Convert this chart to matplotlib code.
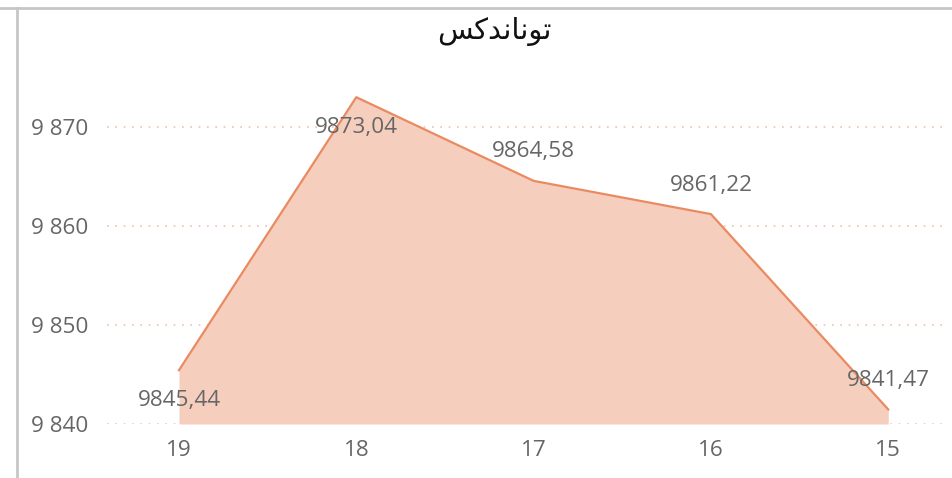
import matplotlib
matplotlib.use("Agg")
import matplotlib.pyplot as plt
from matplotlib.lines import Line2D
from matplotlib.ticker import FuncFormatter

title_text = "\uFEB2\uFB90\uFEAA\uFEE7\uFE8E\uFEE7\uFEEE\uFE97"  # توناندکس (shaped, visual order)
categories = ["19", "18", "17", "16", "15"]
values = [9845.44, 9873.04, 9864.58, 9861.22, 9841.47]
label_above = [False, False, True, True, True]
yticks = [9840, 9850, 9860, 9870]

W, H = 953, 478
fig = plt.figure(figsize=(W / 100, H / 100), dpi=100)
ax = fig.add_axes([107 / W, 54 / H, 838 / W, 364 / H])

x = list(range(len(categories)))
ybase = 9840
ax.fill_between(x, values, ybase, color="#F5CEBE", linewidth=0, zorder=2)
ax.plot(x, values, color="#EA8A60", linewidth=1.6, zorder=3)

for xi, v, up in zip(x, values, label_above):
    lab = f"{v:.2f}".replace(".", ",")
    ax.annotate(lab, (xi, v), xytext=(0, 29 if up else -30), textcoords="offset pixels",
                ha="center", va="center", fontsize=16.2, color="#666666",
                family=["Open Sans", "DejaVu Sans"], zorder=5)

ax.set_xlim(-0.406, 4.32)
ax.set_ylim(9840, 9876.8)
ax.set_xticks(x)
ax.set_xticklabels(categories)
ax.set_yticks(yticks)
ax.yaxis.set_major_formatter(FuncFormatter(lambda v, p: f"{int(v):,}".replace(",", " ")))
for lbl in ax.get_xticklabels() + ax.get_yticklabels():
    lbl.set_family(["Open Sans", "DejaVu Sans"])
    lbl.set_fontsize(16.2)
    lbl.set_color("#666666")
ax.tick_params(axis="both", length=0)
ax.tick_params(axis="y", pad=13.5)
ax.tick_params(axis="x", pad=11.5)
for s in ax.spines.values():
    s.set_visible(False)
ax.grid(axis="y", color="#F2C0AC", linestyle=(0, (1, 4)), linewidth=1.2, zorder=1)
ax.set_axisbelow(True)
ax.patch.set_alpha(0)

fig.text(494 / W, 1 - 32 / H, title_text, ha="center", va="center", fontsize=21,
         family=["DejaVu Sans"], color="#111111")

fig.add_artist(Line2D([0, 1], [1 - 8 / H, 1 - 8 / H], transform=fig.transFigure,
                      color="#C6C6C6", linewidth=2))
fig.add_artist(Line2D([17 / W, 17 / W], [0, 1 - 8 / H], transform=fig.transFigure,
                      color="#C6C6C6", linewidth=2))

fig.savefig("out.png", dpi=100)
